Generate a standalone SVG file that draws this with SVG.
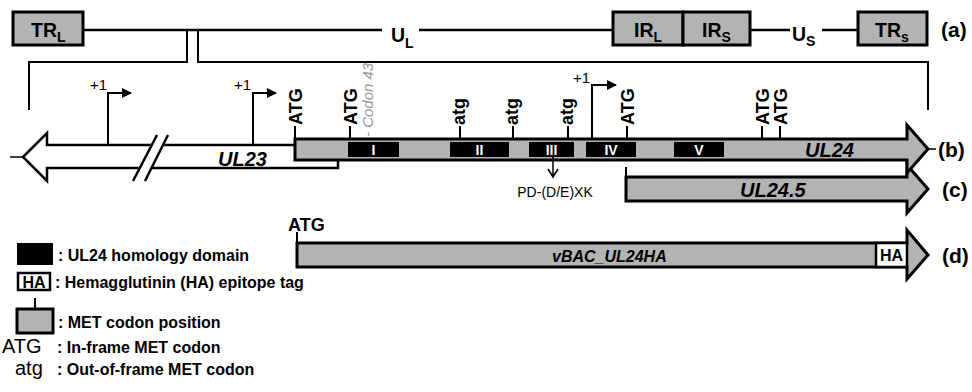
<svg xmlns="http://www.w3.org/2000/svg" width="972" height="392" viewBox="0 0 972 392">
<style>
text{font-family:"Liberation Sans",Arial,sans-serif;fill:#000}
.b{font-weight:bold}
.bi{font-weight:bold;font-style:italic}
.box{fill:#b3b3b3;stroke:#000;stroke-width:3}
.ln{stroke:#000;stroke-width:2.5;fill:none}
.thin{stroke:#000;stroke-width:2;fill:none}
.tk{stroke:#000;stroke-width:2;fill:none}
.dom{fill:#000}
.dt{font-weight:bold;font-size:14px;fill:#fff;text-anchor:middle}
.rot{font-weight:bold;font-size:18px}
.lab{font-weight:bold;font-size:21px}
.leg{font-weight:bold;font-size:16px}
</style>
<defs>
<marker id="ah" viewBox="0 0 10 10" refX="9" refY="5" markerWidth="10" markerHeight="10" markerUnits="userSpaceOnUse" orient="auto"><path d="M0,0 L10,5 L0,10 Z" fill="#000"/></marker>
</defs>

<!-- (a) genome -->
<g id="connectors">
<path class="ln" d="M83,30 H382 M419,30 H613 M750,30 H790 M822,30 H858"/>
<path class="thin" d="M187,30 V62 H29 V110 M198,30 V62 H928 V110"/>
</g>
<g id="TRL"><rect class="box" x="13" y="12" width="70" height="33"/><text class="b" x="31" y="37" font-size="19.5">TR<tspan font-size="14" dy="5">L</tspan></text></g>
<g id="UL"><text class="b" x="391" y="42" font-size="19.5">U<tspan font-size="14" dy="6">L</tspan></text></g>
<g id="IRL"><rect class="box" x="613" y="12" width="70" height="33"/><text class="b" x="634" y="37" font-size="19.5">IR<tspan font-size="14" dy="5">L</tspan></text></g>
<g id="IRS"><rect class="box" x="683" y="12" width="67" height="33"/><text class="b" x="702" y="37" font-size="19.5">IR<tspan font-size="14" dy="5">S</tspan></text></g>
<g id="US"><text class="b" x="792" y="41" font-size="19.5">U<tspan font-size="14" dy="5">S</tspan></text></g>
<g id="TRS"><rect class="box" x="858" y="12" width="69" height="33"/><text class="b" x="875" y="37" font-size="19.5">TR<tspan font-size="14" dy="5">s</tspan></text></g>
<text class="lab" x="941" y="37">(a)</text>

<!-- UL23 -->
<g id="UL23">
<path d="M10,157 H23" stroke="#000" stroke-width="1.5"/>
<path d="M23,157 L47,133 L47,145 L338,145 L338,168 L47,168 L47,181 Z" fill="#fff" stroke="#000" stroke-width="2.5" stroke-linejoin="miter"/>
<polygon points="131,182 156,134 170,134 145,182" fill="#fff"/>
<path d="M133,181 L157,135 M145,181 L168,135" stroke="#000" stroke-width="2.5"/>
<text class="bi" x="218" y="166" font-size="20">UL23</text>
</g>

<!-- promoters -->
<g id="promoters">
<path class="tk" stroke-width="1.5" d="M108,145 V93 H131" marker-end="url(#ah)"/>
<text x="90" y="90" font-size="15">+1</text>
<path class="tk" stroke-width="1.5" d="M253,145 V93 H276" marker-end="url(#ah)"/>
<text x="234" y="90" font-size="15">+1</text>
<path class="tk" stroke-width="1.5" d="M592,139 V85 H616" marker-end="url(#ah)"/>
<text x="573" y="83" font-size="15">+1</text>
</g>

<!-- UL24.5 (c) -->
<g id="UL24_5">
<path d="M626,177 L907,177 L907,165 L928,189 L907,213 L907,201 L626,201 Z" class="box"/>
<path class="tk" stroke-width="3" d="M626,167 V178"/>
<text class="bi" x="740" y="197" font-size="20">UL24.5</text>
</g>

<!-- UL24 (b) -->
<g id="UL24">
<path d="M295,139 L907,139 L907,125 L928,149 L907,173 L907,160 L295,160 Z" class="box"/>
<rect class="dom" x="348" y="142" width="51" height="15"/><text class="dt" x="373.5" y="155">I</text>
<rect class="dom" x="450" y="142" width="59" height="15"/><text class="dt" x="479.5" y="155">II</text>
<rect class="dom" x="529" y="142" width="45" height="15"/><text class="dt" x="551.5" y="155">III</text>
<rect class="dom" x="586" y="142" width="50" height="15"/><text class="dt" x="611" y="155">IV</text>
<rect class="dom" x="674" y="142" width="50" height="15"/><text class="dt" x="699" y="155">V</text>
<text class="bi" x="805" y="157" font-size="20">UL24</text>
<path d="M928,149 H936" stroke="#000" stroke-width="1.5"/>
</g>
<text class="lab" x="938" y="157">(b)</text>
<text class="lab" x="942" y="197">(c)</text>

<!-- codons -->
<g id="codons">
<path class="tk" d="M295,126 V139 M350,126 V139 M460,126 V139 M513,126 V139 M568,126 V139 M627,126 V139 M762,126 V139 M780,126 V139"/>
<text class="rot" transform="translate(301.5,125) rotate(-90)">ATG</text>
<text class="rot" transform="translate(356.5,125) rotate(-90)">ATG</text>
<text x="0" y="0" font-size="15" font-style="italic" fill="#999" style="fill:#999" transform="translate(372.5,137) rotate(-90)">- Codon 43</text>
<text class="rot" transform="translate(465,125) rotate(-90)">atg</text>
<text class="rot" transform="translate(518,125) rotate(-90)">atg</text>
<text class="rot" transform="translate(573,125) rotate(-90)">atg</text>
<text class="rot" transform="translate(633.5,125) rotate(-90)">ATG</text>
<text class="rot" transform="translate(768.5,125) rotate(-90)">ATG</text>
<text class="rot" transform="translate(786.5,125) rotate(-90)">ATG</text>
</g>

<!-- PD-(D/E)XK -->
<g id="PDDEXK">
<path d="M553,157 V177 M548,169 L553,177 L558,169" stroke="#000" stroke-width="1.5" fill="none"/>
<text x="555" y="197" font-size="14" text-anchor="middle">PD-(D/E)XK</text>
</g>

<!-- (d) vBAC_UL24HA -->
<g id="vBAC_UL24HA">
<text class="b" x="288" y="231" font-size="18">ATG</text>
<path class="tk" d="M297,232 V243"/>
<path d="M297,243 L907,243 L907,230 L928,255 L907,279 L907,267 L297,267 Z" class="box"/>
<rect x="876" y="243" width="31" height="24" fill="#fff" stroke="#000" stroke-width="2.5"/>
<text class="b" x="891.5" y="261" font-size="16" text-anchor="middle">HA</text>
<text class="bi" x="552" y="262" font-size="16">vBAC_UL24HA</text>
</g>
<text class="lab" x="942" y="263">(d)</text>

<!-- legend -->
<g id="legend">
<rect x="17" y="243" width="36" height="22" fill="#000"/>
<text class="leg" x="58" y="261">: UL24 homology domain</text>
<rect x="18" y="273" width="32" height="17" fill="#fff" stroke="#000" stroke-width="2.5"/>
<text class="b" x="34" y="288" font-size="16" text-anchor="middle">HA</text>
<text class="leg" x="55" y="288">: Hemagglutinin (HA) epitope tag</text>
<path class="tk" d="M35,298 V309"/>
<rect class="box" x="17" y="309" width="36" height="24"/>
<text class="leg" x="58" y="328">: MET codon position</text>
<text x="2" y="353" font-size="20">ATG</text>
<text class="leg" x="57" y="353">: In-frame MET codon</text>
<text x="15" y="375" font-size="20">atg</text>
<text class="leg" x="57" y="375">: Out-of-frame MET codon</text>
</g>
</svg>
